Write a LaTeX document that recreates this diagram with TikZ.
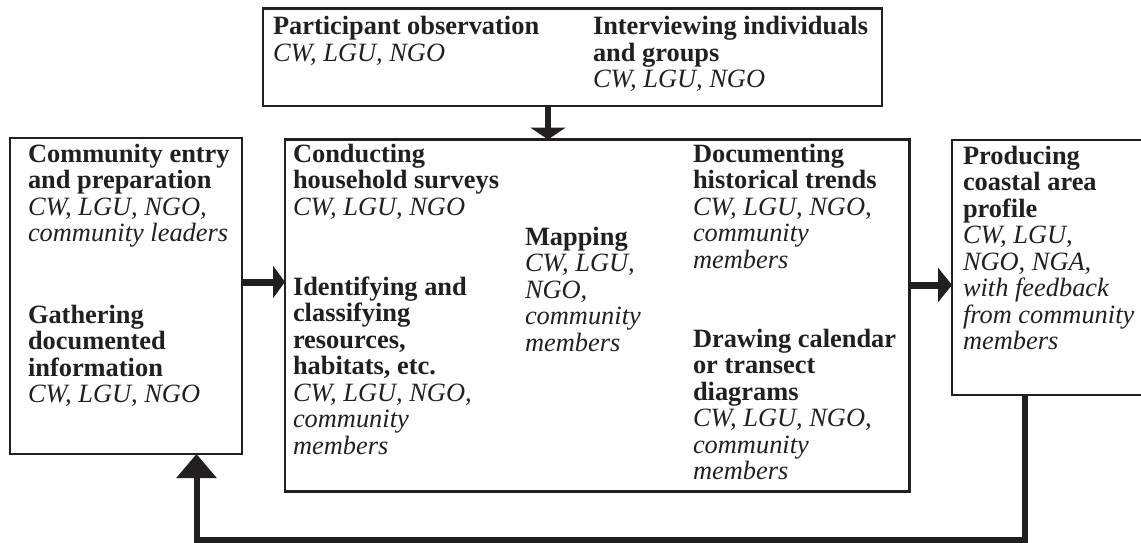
\documentclass[tikz,border=0pt]{standalone}
\usepackage{fontspec}
\setmainfont{Liberation Serif}
\usetikzlibrary{arrows.meta}
\definecolor{ink}{HTML}{231F20}
\newcommand{\hdtxt}[1]{\textbf{#1}}
\newcommand{\whotxt}[1]{\textit{#1}}
\newcommand{\blocktxt}[1]{\begin{tabular}[t]{@{}l@{}}#1\end{tabular}}
\tikzset{
  box/.style={draw=ink, line width=2.4pt, rectangle, inner sep=0pt, outer sep=0pt, anchor=north west},
  txt/.style={anchor=base west, inner sep=0pt, outer sep=0pt, text=ink, font=\fontsize{26.4}{26.5}\selectfont},
  flow/.style={draw=ink, line width=6.5pt},
}
\begin{document}
\begin{tikzpicture}[x=1pt, y=-1pt]
\useasboundingbox (0,0) rectangle (1141,543);
% boxes
\node[box, minimum width=619pt, minimum height=97.5pt] (top) at (263,8.5) {};
\node[box, minimum width=232pt, minimum height=316pt] (left) at (10,138) {};
\node[box, minimum width=624.5pt, minimum height=352pt] (mid) at (285,139.5) {};
\node[box, minimum width=200pt, minimum height=255pt] (right) at (952,140) {};
% texts
\node[txt] (tpo) at (273,35) {\blocktxt{\hdtxt{Participant observation}\\ \whotxt{CW, LGU, NGO}}};
\node[txt] (tig) at (593,35) {\blocktxt{\hdtxt{Interviewing individuals}\\ \hdtxt{and groups}\\ \whotxt{CW, LGU, NGO}}};
\node[txt] (l1) at (28,162) {\blocktxt{\hdtxt{Community entry}\\ \hdtxt{and preparation}\\ \whotxt{CW, LGU, NGO,}\\ \whotxt{community leaders}}};
\node[txt] (l2) at (28,323) {\blocktxt{\hdtxt{Gathering}\\ \hdtxt{documented}\\ \hdtxt{information}\\ \whotxt{CW, LGU, NGO}}};
\node[txt] (c1) at (293,162) {\blocktxt{\hdtxt{Conducting}\\ \hdtxt{household surveys}\\ \whotxt{CW, LGU, NGO}}};
\node[txt] (c2) at (293,295) {\blocktxt{\hdtxt{Identifying and}\\ \hdtxt{classifying}\\ \hdtxt{resources,}\\ \hdtxt{habitats, etc.}\\ \whotxt{CW, LGU, NGO,}\\ \whotxt{community}\\ \whotxt{members}}};
\node[txt] (c3) at (525,245) {\blocktxt{\hdtxt{Mapping}\\ \whotxt{CW, LGU,}\\ \whotxt{NGO,}\\ \whotxt{community}\\ \whotxt{members}}};
\node[txt] (c4) at (693,162) {\blocktxt{\hdtxt{Documenting}\\ \hdtxt{historical trends}\\ \whotxt{CW, LGU, NGO,}\\ \whotxt{community}\\ \whotxt{members}}};
\node[txt] (c5) at (693,347) {\blocktxt{\hdtxt{Drawing calendar}\\ \hdtxt{or transect}\\ \hdtxt{diagrams}\\ \whotxt{CW, LGU, NGO,}\\ \whotxt{community}\\ \whotxt{members}}};
\node[txt] (r1) at (963,164) {\blocktxt{\hdtxt{Producing}\\ \hdtxt{coastal area}\\ \hdtxt{profile}\\ \whotxt{CW, LGU,}\\ \whotxt{NGO, NGA,}\\ \whotxt{with feedback}\\ \whotxt{from community}\\ \whotxt{members}}};
% connectors
\coordinate (xa) at (548,0);
\coordinate (ya) at (0,282);
\coordinate (yb) at (0,285);
\coordinate (xfr) at (1024.5,0);
\coordinate (xfl) at (196.5,0);
\coordinate (yf) at (0,539.5);
\draw[flow, line width=6pt, -{Triangle[width=35pt,length=12pt]}] (top.south -| xa) -- (mid.north -| xa);
\draw[flow, line width=7pt, -{Triangle[width=32pt,length=12pt]}] (left.east |- ya) -- (mid.west |- ya);
\draw[flow, line width=7pt, -{Triangle[width=34pt,length=14pt]}] (mid.east |- yb) -- (right.west |- yb);
\draw[flow, line width=6pt, -{Triangle[width=39pt,length=24pt]}] (right.south -| xfr) -- (xfr |- yf) -- (xfl |- yf) -- (left.south -| xfl);
\end{tikzpicture}
\end{document}
